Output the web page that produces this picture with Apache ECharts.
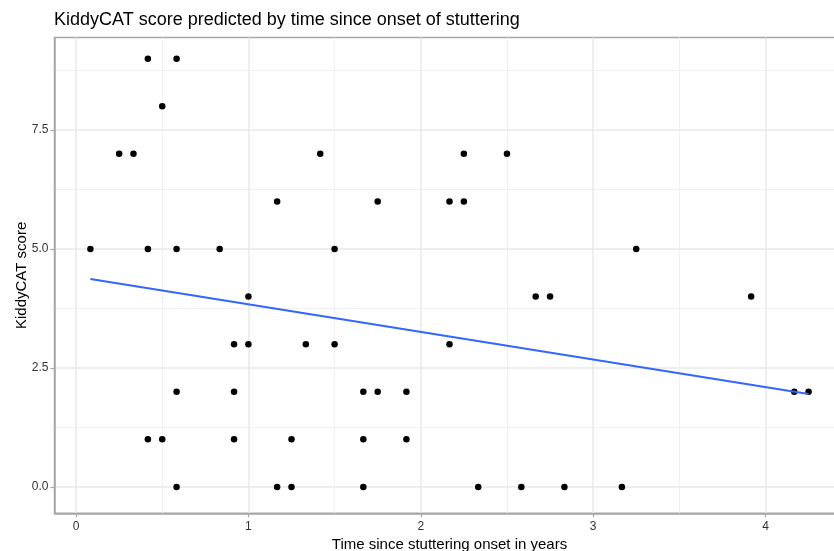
<!DOCTYPE html>
<html>
<head>
<meta charset="utf-8">
<script src="https://cdn.jsdelivr.net/npm/echarts@6/dist/echarts.min.js"></script>
<style>
  html, body { margin: 0; padding: 0; background: #ffffff; }
  #chart { width: 834px; height: 551px; }
</style>
</head>
<body>
<div id="chart"></div>
<script>
// Time since onset (years) and KiddyCAT scores
const timeYears = [
  0.0833, 0.25, 0.3333, 0.4167, 0.4167, 0.4167, 0.5, 0.5, 0.5833, 0.5833,
  0.5833, 0.5833, 0.8333, 0.9167, 0.9167, 0.9167, 1.0, 1.0, 1.1667, 1.1667,
  1.25, 1.25, 1.3333, 1.4167, 1.5, 1.5, 1.6667, 1.6667, 1.6667, 1.75,
  1.75, 1.9167, 1.9167, 2.1667, 2.1667, 2.25, 2.25, 2.3333, 2.5, 2.5833,
  2.6667, 2.75, 2.8333, 3.1667, 3.25, 3.9167, 4.1667, 4.25
];
const kiddyCatScore = [
  5, 7, 7, 9, 5, 1, 8, 1, 9, 5,
  2, 0, 5, 3, 2, 1, 4, 3, 6, 0,
  1, 0, 3, 7, 5, 3, 2, 1, 0, 6,
  2, 2, 1, 6, 3, 7, 6, 0, 7, 0,
  4, 4, 0, 0, 5, 4, 2, 2
];
// Fitted linear trend (endpoints)
const trendX = [0.0833, 4.25];
const trendY = [4.37, 1.95];

// Axis ticks
const xMajorTicks = [0, 1, 2, 3, 4];
const xMinorTicks = [0.5, 1.5, 2.5, 3.5];
const yMajorTicks = [0, 2.5, 5, 7.5];
const yMinorTicks = [1.25, 3.75, 6.25, 8.75];

const titleText = 'KiddyCAT score predicted by time since onset of stuttering';
const xTitle = 'Time since stuttering onset in years';
const yTitle = 'KiddyCAT score';

const points = timeYears.map((x, i) => [x, kiddyCatScore[i]]);
const trend = trendX.map((x, i) => [x, trendY[i]]);

const FONT = "'Liberation Sans', Arial, Helvetica, sans-serif";
const X_MIN = -0.125, X_MAX = 4.4583;
const Y_MIN = -0.555, Y_MAX = 9.445;
const axisGray = '#a6a6a6';

const chart = echarts.init(document.getElementById('chart'), null, { renderer: 'canvas' });
chart.setOption({
  animation: false,
  backgroundColor: '#ffffff',
  title: {
    text: titleText,
    left: 54,
    top: 11,
    padding: 0,
    textStyle: { fontFamily: FONT, fontSize: 18, fontWeight: 'normal', color: '#000000' }
  },
  grid: {
    left: 54.5, top: 37.5, width: 790, height: 475.8,
    show: true, borderColor: axisGray, borderWidth: 1.5, backgroundColor: '#ffffff',
    containLabel: false,
    outerBoundsMode: 'none'
  },
  xAxis: [
    {
      type: 'value', min: X_MIN, max: X_MAX, gridIndex: 0, position: 'bottom',
      name: xTitle, nameLocation: 'middle', nameGap: 24, nameMoveOverlap: false,
      nameTextStyle: { fontFamily: FONT, fontSize: 15, color: '#000000' },
      axisLine: { show: true, onZero: false, lineStyle: { color: axisGray, width: 1.5 } },
      axisTick: { show: true, length: 4, customValues: xMajorTicks, lineStyle: { color: axisGray, width: 1.2 } },
      axisLabel: { show: true, margin: 7, customValues: xMajorTicks, fontFamily: FONT, fontSize: 12, color: '#333333',
        formatter: v => String(v) },
      splitLine: { show: true, lineStyle: { color: '#e8e8e8', width: 1.5 } }
    },
    {
      type: 'value', min: X_MIN, max: X_MAX, gridIndex: 0, position: 'top',
      axisLine: { show: false },
      axisTick: { show: false, customValues: xMinorTicks },
      axisLabel: { show: false, customValues: xMinorTicks },
      splitLine: { show: true, lineStyle: { color: '#f1f1f1', width: 1 } }
    }
  ],
  yAxis: [
    {
      type: 'value', min: Y_MIN, max: Y_MAX, gridIndex: 0, position: 'left',
      name: yTitle, nameLocation: 'middle', nameGap: 25.5, nameRotate: 90, nameMoveOverlap: false,
      nameTextStyle: { fontFamily: FONT, fontSize: 15, color: '#000000' },
      axisLine: { show: true, onZero: false, lineStyle: { color: axisGray, width: 1.5 } },
      axisTick: { show: true, length: 4, customValues: yMajorTicks, lineStyle: { color: axisGray, width: 1.2 } },
      axisLabel: { show: true, margin: 6, customValues: yMajorTicks, fontFamily: FONT, fontSize: 12, color: '#333333',
        formatter: v => v.toFixed(1) },
      splitLine: { show: true, lineStyle: { color: '#e8e8e8', width: 1.5 } }
    },
    {
      type: 'value', min: Y_MIN, max: Y_MAX, gridIndex: 0, position: 'right',
      axisLine: { show: false },
      axisTick: { show: false, customValues: yMinorTicks },
      axisLabel: { show: false, customValues: yMinorTicks },
      splitLine: { show: true, lineStyle: { color: '#f1f1f1', width: 1 } }
    }
  ],
  series: [
    {
      type: 'scatter', xAxisIndex: 0, yAxisIndex: 0,
      data: points, symbol: 'circle', symbolSize: 6.5,
      itemStyle: { color: '#000000', opacity: 1 }, z: 3
    },
    {
      type: 'line', xAxisIndex: 0, yAxisIndex: 0,
      data: trend, showSymbol: false, symbol: 'none',
      lineStyle: { color: '#3366FF', width: 2 }, z: 4
    }
  ]
});
</script>
</body>
</html>
